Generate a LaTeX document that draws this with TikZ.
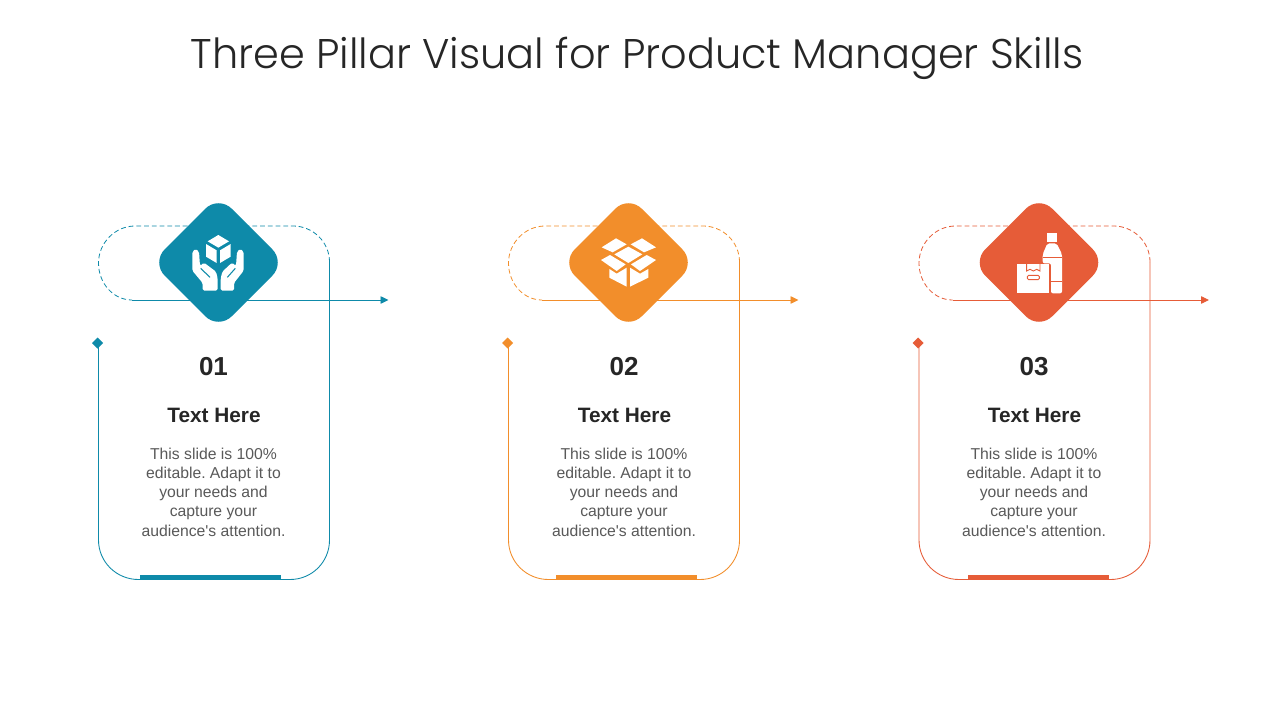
\documentclass[tikz,border=0pt]{standalone}
\usepackage{fontspec}
\setmainfont{Liberation Sans}[Ligatures=TeXOff]
\newfontfamily\titlefont{Poppins Light}
\definecolor{cteal}{HTML}{0E8AA9}
\definecolor{corange}{HTML}{F28E2B}
\definecolor{cred}{HTML}{E65C38}
\definecolor{cbody}{HTML}{595959}
\definecolor{chead}{HTML}{262626}
\usetikzlibrary{arrows.meta}
\tikzset{
  x=0.75pt,y=-0.75pt,
  solidline/.style={line width=0.65pt},
  dashline/.style={line width=0.6pt,dash pattern=on 3.6pt off 2.2pt},
  arrowline/.style={line width=0.65pt,-{Triangle[length=6pt,width=5.6pt]}},
  numtext/.style={font=\bfseries\fontsize{19.5}{23}\selectfont,text=chead},
  headtext/.style={font=\bfseries\fontsize{15.6}{18}\selectfont,text=chead},
  bodytext/.style={font=\fontsize{11.8}{14.4}\selectfont,text=cbody,align=center},
}
\frenchspacing
\begin{document}
\begin{tikzpicture}
\useasboundingbox (0,0) rectangle (1280,720);
\fill[white] (0,0) rectangle (1280,720);
\node[font=\titlefont\fontsize{31.1}{38}\selectfont,text=chead] (title) at (637,58) {Three Pillar Visual for Product Manager Skills};
\foreach \id/\off/\col/\num/\bar/\tx in {1/0/cteal/01/140/213.5,2/410/corange/02/556/624,3/820.5/cred/03/968/1034}{
  \coordinate (tip\id) at (98.5+\off,343);
  \coordinate (a\id) at (98.5+\off,540);
  \coordinate (b\id) at (138.5+\off,579.5);
  \coordinate (c\id) at (290+\off,579.5);
  \coordinate (d\id) at (329.5+\off,540);
  \coordinate (e\id) at (329.5+\off,262);
  \coordinate (f\id) at (293+\off,226);
  \coordinate (g\id) at (135+\off,226);
  \coordinate (h\id) at (98.5+\off,263);
  \coordinate (s\id) at (132+\off,300);
  \coordinate (t\id) at (388.5+\off,300);
  \draw[solidline,draw=\col] (tip\id) -- (a\id) .. controls +(0,22) and +(-22,0) .. (b\id) -- (c\id)
     .. controls +(22,0) and +(0,22) .. (d\id) -- (e\id);
  \draw[dashline,draw=\col] (e\id) .. controls +(0,-20) and +(20,0) .. (f\id) -- (g\id)
     .. controls +(-20,0) and +(0,-20) .. (h\id) .. controls +(0,20) and +(-19,0) .. (s\id);
  \draw[arrowline,draw=\col,fill=\col] (s\id) -- (t\id);
  \fill[\col] (tip\id) ++(-6.5,0) -- ++(5.5,-5.5) -- ++(5.5,5.5) -- ++(-5.5,5.5) -- cycle;
  \fill[\col] (\bar,575) rectangle ++(141,5);
  \fill[\col,rounded corners=14pt] (218.5+\off,195.5) -- (285.5+\off,262.5) -- (218.5+\off,329.5) -- (151.5+\off,262.5) -- cycle;
  \node[numtext] (num\id) at (\tx,366.5) {\num};
  \node[headtext] (head\id) at (\tx+0.5,415.5) {Text Here};
  \node[bodytext] (body\id) at (\tx,492) {This slide is 100\%\\editable. Adapt it to\\your needs and\\capture your\\audience's attention.};
}
% hands icon
\begin{scope}[shift={(150,200)},x=0.25pt,y=-0.25pt]
  \fill[white] (205,105) -- (237,124) -- (205,143) -- (173,124) -- cycle;
  \fill[white] (168,132) -- (200,151) -- (200,189) -- (168,170) -- cycle;
  \fill[white] (242,132) -- (210,151) -- (210,189) -- (242,170) -- cycle;
  \fill[white,rounded corners=1.2pt] (127,155) -- (137,147) -- (147,155) -- (150,198) -- (162,188) -- (198,215) -- (203,235) -- (203,272) -- (158,272) -- (158,249) -- (127,212) -- cycle;
  \fill[white,rounded corners=1.2pt] (281,155) -- (271,147) -- (261,155) -- (258,198) -- (246,188) -- (217,215) -- (212,235) -- (212,272) -- (252,272) -- (252,249) -- (281,212) -- cycle;
  \draw[cteal,line width=0.8pt] (152,205) -- (180,232);
  \draw[cteal,line width=0.8pt] (256,205) -- (232,232);
\end{scope}
% open box icon
\begin{scope}[shift={(560,195)},x=0.25pt,y=-0.25pt]
  \fill[white] (125,157) -- (168,130) -- (200,148) -- (158,172) -- cycle;
  \fill[white] (212,148) -- (246,130) -- (288,157) -- (252,172) -- cycle;
  \fill[white] (163,178) -- (205,155) -- (247,178) -- (205,204) -- cycle;
  \fill[white] (123,195) -- (150,180) -- (197,208) -- (170,228) -- cycle;
  \fill[white] (213,208) -- (260,180) -- (288,195) -- (240,228) -- cycle;
  \fill[white] (148,222) -- (170,236) -- (200,218) -- (200,275) -- (148,248) -- cycle;
  \fill[white] (210,218) -- (240,236) -- (265,222) -- (265,248) -- (210,275) -- cycle;
\end{scope}
% bottle and parcel icon
\begin{scope}[shift={(970,195)},x=0.25pt,y=-0.25pt]
  \fill[white] (231,113) rectangle (262,140);
  \fill[white,rounded corners=1.5pt] (232,145) -- (260,145) -- (276,178) -- (276,295) -- (243,295) -- (243,205) -- (218,205) -- (218,178) -- cycle;
  \draw[cred,line width=0.7pt] (218,187) -- (276,187);
  \draw[cred,line width=0.7pt] (243,258) -- (276,258);
  \fill[white] (140,206) rectangle (237,295);
  \draw[cred,line width=0.7pt] (170,206) -- (170,228) -- (180,223) -- (190,228) -- (200,223) -- (210,228) -- (210,206);
  \draw[cred,line width=0.7pt,rounded corners=1pt] (172,241) rectangle (208,254);
\end{scope}
\end{tikzpicture}
\end{document}
